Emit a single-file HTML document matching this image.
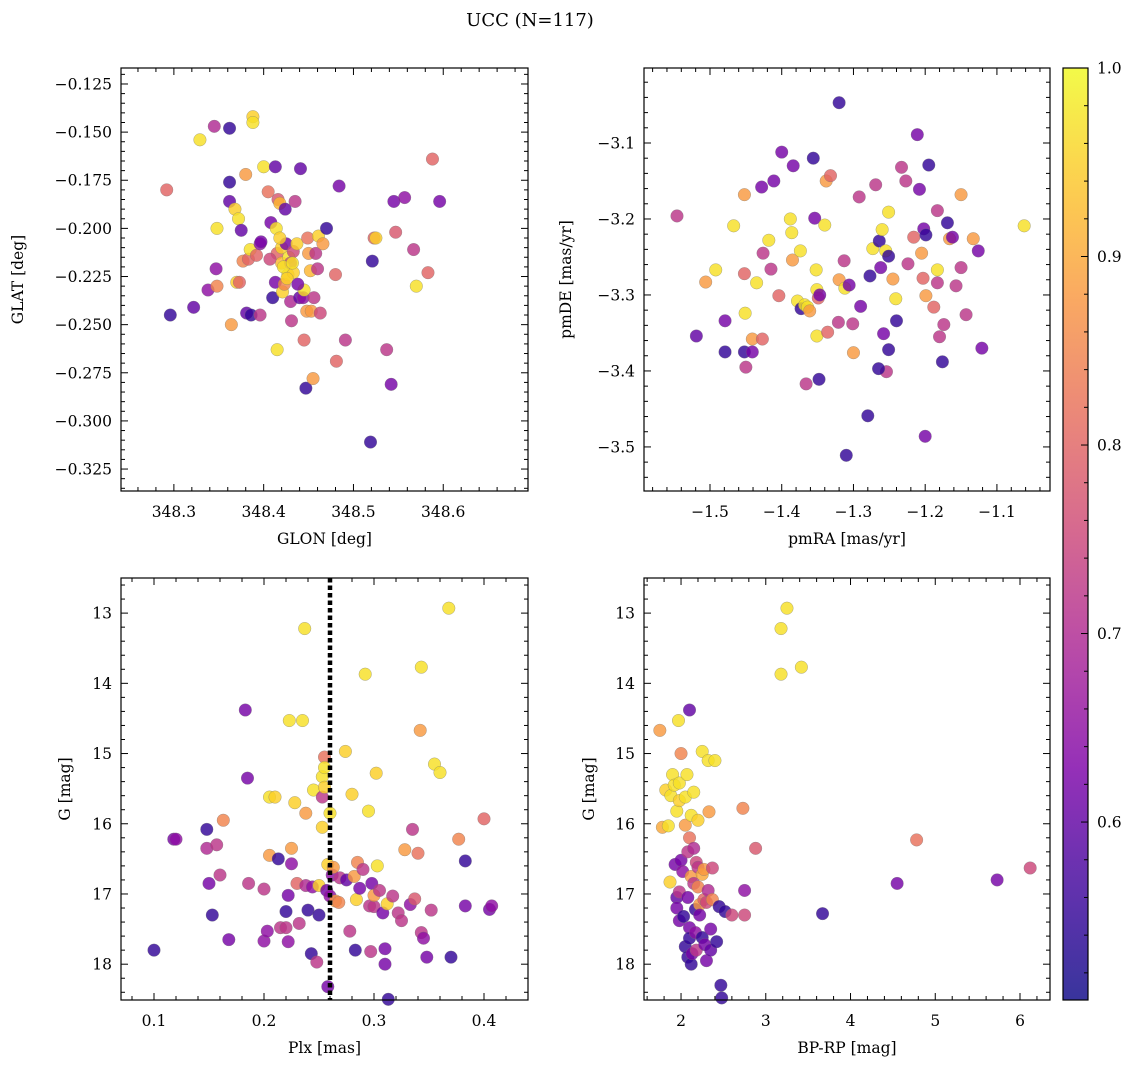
<!DOCTYPE html>
<html><head><meta charset="utf-8">
<style>
body{margin:0;background:#fff;}
svg{display:block;font-family:"DejaVu Serif","Liberation Serif",serif;}
</style></head>
<body>
<svg id="fig" width="1136" height="1068" viewBox="0 0 1136 1068" xmlns="http://www.w3.org/2000/svg">
<text x="530" y="26" font-size="18" text-anchor="middle">UCC (N=117)</text>
</svg>
<script>
// ---------- data ----------
const p1Glon=[348.292,348.296,348.322,348.329,348.338,348.345,348.362,348.347,348.348,348.348,348.362,348.362,348.368,348.372,348.370,348.373,348.364,348.375,348.377,348.381,348.380,348.383,348.386,348.388,348.388,348.385,348.392,348.396,348.396,348.397,348.400,348.405,348.408,348.410,348.413,348.414,348.415,348.413,348.416,348.418,348.420,348.420,348.421,348.415,348.423,348.424,348.425,348.427,348.428,348.430,348.430,348.431,348.433,348.435,348.437,348.433,348.440,348.441,348.444,348.445,348.445,348.448,348.447,348.449,348.450,348.452,348.453,348.455,348.456,348.458,348.460,348.461,348.463,348.466,348.470,348.480,348.481,348.484,348.491,348.519,348.521,348.523,348.525,348.537,348.542,348.545,348.547,348.557,348.567,348.570,348.583,348.588,348.596,348.422,348.426,348.432,348.418,348.407,348.438];
const p1Glat=[-0.180,-0.245,-0.241,-0.154,-0.232,-0.147,-0.148,-0.221,-0.230,-0.200,-0.176,-0.186,-0.190,-0.195,-0.228,-0.228,-0.250,-0.201,-0.217,-0.244,-0.172,-0.216,-0.245,-0.142,-0.145,-0.211,-0.214,-0.245,-0.208,-0.207,-0.168,-0.181,-0.197,-0.236,-0.228,-0.200,-0.213,-0.168,-0.185,-0.187,-0.210,-0.218,-0.233,-0.263,-0.229,-0.190,-0.208,-0.224,-0.215,-0.238,-0.218,-0.248,-0.212,-0.186,-0.208,-0.223,-0.236,-0.169,-0.236,-0.232,-0.258,-0.243,-0.283,-0.205,-0.213,-0.222,-0.243,-0.278,-0.236,-0.213,-0.221,-0.204,-0.244,-0.208,-0.200,-0.224,-0.269,-0.178,-0.258,-0.311,-0.217,-0.205,-0.205,-0.263,-0.281,-0.186,-0.202,-0.184,-0.211,-0.230,-0.223,-0.164,-0.186,-0.220,-0.226,-0.218,-0.205,-0.216,-0.229];
const p1Prob=[.80,.55,.60,.97,.65,.70,.55,.65,.85,.97,.55,.60,.95,.97,.95,.80,.88,.60,.85,.60,.88,.80,.55,.95,.97,.97,.80,.72,.65,.62,.97,.82,.62,.55,.62,.97,.80,.60,.78,.92,.95,.92,.95,.97,.85,.60,.62,.97,.97,.70,.75,.72,.75,.72,.95,.95,.60,.60,.65,.97,.80,.88,.55,.82,.88,.92,.88,.88,.72,.72,.72,.95,.75,.88,.55,.80,.80,.62,.72,.55,.55,.80,.95,.72,.62,.62,.78,.65,.72,.97,.80,.80,.62,.97,.95,.97,.95,.75,.62];

const p2Pmra=[-1.546,-1.519,-1.506,-1.492,-1.479,-1.479,-1.467,-1.452,-1.452,-1.450,-1.452,-1.451,-1.441,-1.441,-1.435,-1.428,-1.427,-1.426,-1.418,-1.415,-1.411,-1.400,-1.404,-1.388,-1.386,-1.385,-1.384,-1.378,-1.374,-1.373,-1.368,-1.366,-1.364,-1.361,-1.356,-1.354,-1.352,-1.351,-1.349,-1.351,-1.348,-1.347,-1.338,-1.340,-1.336,-1.332,-1.321,-1.320,-1.312,-1.313,-1.306,-1.301,-1.300,-1.292,-1.320,-1.290,-1.310,-1.277,-1.273,-1.269,-1.264,-1.262,-1.260,-1.258,-1.255,-1.254,-1.251,-1.251,-1.251,-1.280,-1.245,-1.241,-1.240,-1.233,-1.227,-1.224,-1.216,-1.265,-1.211,-1.208,-1.205,-1.203,-1.202,-1.199,-1.199,-1.195,-1.188,-1.183,-1.183,-1.183,-1.180,-1.176,-1.174,-1.200,-1.169,-1.166,-1.162,-1.157,-1.150,-1.150,-1.143,-1.133,-1.126,-1.121,-1.062];
const p2Pmde=[-3.196,-3.354,-3.283,-3.267,-3.334,-3.375,-3.209,-3.168,-3.375,-3.395,-3.272,-3.324,-3.358,-3.375,-3.284,-3.158,-3.358,-3.245,-3.228,-3.266,-3.150,-3.112,-3.301,-3.200,-3.218,-3.254,-3.130,-3.308,-3.242,-3.318,-3.313,-3.417,-3.316,-3.321,-3.120,-3.199,-3.267,-3.293,-3.304,-3.354,-3.411,-3.300,-3.150,-3.208,-3.349,-3.143,-3.336,-3.280,-3.291,-3.255,-3.287,-3.338,-3.376,-3.171,-3.047,-3.315,-3.511,-3.275,-3.239,-3.155,-3.229,-3.264,-3.214,-3.351,-3.242,-3.401,-3.191,-3.249,-3.372,-3.459,-3.279,-3.305,-3.334,-3.132,-3.150,-3.259,-3.224,-3.397,-3.089,-3.161,-3.245,-3.278,-3.213,-3.301,-3.221,-3.129,-3.316,-3.189,-3.267,-3.284,-3.355,-3.388,-3.339,-3.486,-3.205,-3.226,-3.224,-3.288,-3.264,-3.168,-3.326,-3.226,-3.242,-3.370,-3.209];
const p2Prob=[.72,.60,.88,.97,.62,.55,.97,.88,.55,.72,.80,.97,.88,.62,.97,.62,.80,.72,.97,.72,.62,.62,.80,.97,.97,.88,.62,.97,.97,.55,.97,.72,.97,.88,.55,.62,.97,.97,.80,.97,.55,.62,.88,.97,.80,.80,.72,.88,.97,.72,.62,.72,.88,.72,.55,.62,.55,.55,.97,.72,.55,.62,.97,.62,.97,.72,.97,.55,.55,.55,.88,.97,.55,.72,.72,.72,.80,.55,.62,.62,.88,.80,.62,.88,.55,.55,.80,.72,.97,.72,.72,.55,.72,.62,.55,.88,.62,.72,.72,.88,.72,.88,.62,.62,.97,.62];

const p3Plx=[0.100,0.118,0.120,0.148,0.148,0.150,0.153,0.157,0.160,0.163,0.168,0.183,0.185,0.186,0.200,0.200,0.203,0.205,0.205,0.210,0.213,0.215,0.220,0.220,0.223,0.222,0.222,0.225,0.225,0.228,0.230,0.232,0.235,0.237,0.238,0.238,0.240,0.243,0.244,0.245,0.248,0.250,0.250,0.253,0.253,0.253,0.255,0.255,0.255,0.257,0.258,0.258,0.260,0.260,0.262,0.263,0.265,0.268,0.269,0.274,0.275,0.278,0.280,0.282,0.283,0.284,0.285,0.287,0.290,0.292,0.295,0.296,0.297,0.298,0.300,0.300,0.302,0.303,0.305,0.308,0.310,0.310,0.312,0.313,0.317,0.322,0.325,0.328,0.333,0.335,0.337,0.340,0.343,0.343,0.342,0.345,0.348,0.352,0.355,0.360,0.368,0.370,0.377,0.383,0.383,0.400,0.405,0.407];
const p3G=[17.80,16.22,16.22,16.08,16.35,16.85,17.30,16.30,16.73,15.95,17.65,14.38,15.35,16.85,16.93,17.67,17.53,15.62,16.45,15.62,16.50,17.48,17.48,17.25,14.53,17.68,17.02,16.35,16.57,15.70,16.85,17.42,14.53,13.22,15.85,16.88,17.23,17.85,16.90,15.52,17.97,16.88,17.30,15.33,15.62,16.05,15.48,15.05,15.20,16.95,16.58,18.32,15.85,17.03,16.73,16.62,17.10,17.12,16.77,14.97,16.80,17.53,15.58,16.75,17.80,17.08,16.55,16.92,16.65,13.87,15.82,17.17,17.82,16.85,17.18,17.02,15.28,16.60,16.95,17.27,18.00,17.78,17.14,18.50,17.03,17.27,17.38,16.37,17.15,16.08,17.07,16.42,13.77,17.55,14.67,17.63,17.90,17.23,15.15,15.27,12.93,17.90,16.22,16.53,17.17,15.93,17.22,17.17];
const p3Prob=[.55,.62,.65,.55,.70,.62,.55,.72,.72,.85,.62,.62,.62,.72,.72,.65,.65,.97,.88,.95,.55,.72,.72,.55,.97,.65,.62,.88,.65,.95,.80,.72,.97,.97,.88,.70,.55,.55,.65,.97,.72,.95,.55,.97,.72,.95,.95,.82,.97,.62,.95,.62,.97,.65,.65,.88,.88,.85,.72,.95,.60,.72,.95,.88,.55,.95,.85,.62,.72,.97,.97,.72,.72,.62,.72,.88,.95,.97,.72,.62,.62,.62,.95,.55,.72,.72,.72,.88,.65,.72,.78,.82,.97,.72,.88,.65,.62,.72,.97,.97,.97,.55,.85,.55,.62,.80,.62,.65];
const p3PlxCut=[0.26];

const p4Bprp=[1.75,1.78,1.82,1.85,1.88,1.87,1.90,1.92,1.93,1.95,1.95,1.95,1.97,1.98,1.98,1.98,1.98,2.00,2.00,2.02,2.03,2.05,2.05,2.05,2.07,2.08,2.08,2.08,2.10,2.10,2.10,2.10,2.12,2.12,2.12,2.13,2.15,2.15,2.15,2.17,2.17,2.18,2.18,2.20,2.20,2.20,2.22,2.22,2.25,2.25,2.25,2.27,2.27,2.28,2.30,2.30,2.32,2.32,2.33,2.35,2.35,2.37,2.37,2.40,2.42,2.45,2.47,2.48,2.52,2.60,2.73,2.75,2.75,2.88,3.18,3.18,3.25,3.42,3.67,4.55,4.78,5.73,6.12];
const p4G=[14.67,16.05,15.52,16.03,15.60,16.83,15.30,15.45,16.58,15.82,17.05,17.20,14.53,15.42,15.67,16.97,17.38,15.00,16.52,16.68,17.32,15.62,16.02,17.75,15.30,16.40,17.05,17.90,14.38,16.20,17.48,17.63,15.88,16.75,18.00,17.85,15.55,16.35,16.85,17.22,17.55,16.55,17.80,15.95,16.62,16.90,17.15,17.30,14.97,16.72,17.62,16.65,17.08,17.72,17.12,17.95,15.10,16.95,15.83,17.50,17.80,16.63,17.08,15.10,17.68,17.18,18.30,18.48,17.25,17.30,15.78,17.30,16.95,16.35,13.87,13.22,12.93,13.77,17.28,16.85,16.23,16.80,16.63];
const p4Prob=[.88,.90,.95,.97,.97,.95,.97,.97,.62,.97,.60,.62,.97,.97,.95,.72,.62,.85,.62,.65,.55,.97,.88,.55,.97,.72,.62,.55,.60,.82,.62,.55,.97,.88,.55,.62,.97,.70,.72,.55,.65,.75,.72,.95,.72,.85,.88,.62,.97,.90,.55,.88,.80,.62,.75,.62,.97,.70,.88,.62,.60,.75,.85,.97,.55,.55,.55,.55,.55,.75,.85,.75,.65,.78,.97,.97,.97,.97,.55,.62,.82,.62,.75];

const cbTicks=[0.6,0.7,0.8,0.9,1.0];
const P_MIN=0.5056, P_MAX=1.0;

// ---------- helpers ----------
const NS="http://www.w3.org/2000/svg";
const svg=document.getElementById('fig');
function mk(tag,attrs,parent){const e=document.createElementNS(NS,tag);for(const k in attrs)e.setAttribute(k,attrs[k]);(parent||svg).appendChild(e);return e;}
const stops=[[0,[13,8,135]],[0.125,[65,4,157]],[0.25,[126,3,168]],[0.375,[170,35,149]],[0.5,[204,71,120]],[0.625,[230,108,92]],[0.75,[248,149,64]],[0.875,[253,196,39]],[1,[240,249,33]]];
function plasma(t){t=Math.max(0,Math.min(1,t));for(let i=1;i<stops.length;i++){if(t<=stops[i][0]){const a=stops[i-1],b=stops[i];const f=(t-a[0])/(b[0]-a[0]);const c=a[1].map((v,j)=>Math.round(v+(b[1][j]-v)*f));return `rgb(${c[0]},${c[1]},${c[2]})`;}}return 'rgb(240,249,33)';}
function pcol(p){return plasma((p-P_MIN)/(P_MAX-P_MIN));}
function fmt(v,d){let s=v.toFixed(d);return s.replace('-','\u2212');}

function panel(o){
  const g=mk('g',{});
  
  
  const X=v=>o.L+(v-o.x0)/(o.x1-o.x0)*(o.R-o.L);
  const Y=o.invY? v=>o.T+(v-o.y0)/(o.y1-o.y0)*(o.B-o.T) : v=>o.B-(v-o.y0)/(o.y1-o.y0)*(o.B-o.T);
  const pg=mk('g',{},g);
  
  
  for(let i=0;i<o.xs.length;i++){
    const c=mk('circle',{cx:X(o.xs[i]),cy:Y(o.ys[i]),r:6.3,fill:pcol(o.ps[i]),'fill-opacity':0.82,stroke:'#777','stroke-width':0.5,'stroke-opacity':0.6},pg);
    
    
  }
  if(o.extra)o.extra(g,X,Y);
  const fr=mk('rect',{x:o.L,y:o.T,width:o.R-o.L,height:o.B-o.T,fill:'none',stroke:'#000','stroke-width':1.2},g);
  
  
  const eps=1e-9;
  const xs0=Math.ceil((o.x0-eps)/o.xm)*o.xm;
  for(let v=xs0;v<=o.x1+eps;v+=o.xm){
    const px=X(v);const major=Math.abs(v/o.xM-Math.round(v/o.xM))<1e-6;const len=major?7:4;
    mk('line',{x1:px,y1:o.B,x2:px,y2:o.B-len,stroke:'#000','stroke-width':1},g);
    mk('line',{x1:px,y1:o.T,x2:px,y2:o.T+len,stroke:'#000','stroke-width':1},g);
    if(major){const t=mk('text',{x:px,y:o.B+26,'font-size':15.5,'text-anchor':'middle'},g);t.textContent=fmt(v,o.xd);
      
      }
  }
  const ys0=Math.ceil((Math.min(o.y0,o.y1)-eps)/o.ym)*o.ym;
  for(let v=ys0;v<=Math.max(o.y0,o.y1)+eps;v+=o.ym){
    const py=Y(v);const major=Math.abs(v/o.yM-Math.round(v/o.yM))<1e-6;const len=major?7:4;
    mk('line',{x1:o.L,y1:py,x2:o.L+len,y2:py,stroke:'#000','stroke-width':1},g);
    mk('line',{x1:o.R,y1:py,x2:o.R-len,y2:py,stroke:'#000','stroke-width':1},g);
    if(major){const t=mk('text',{x:o.L-9,y:py+5.5,'font-size':15.5,'text-anchor':'end'},g);t.textContent=fmt(v,o.yd);
      
      }
  }
  const xl=mk('text',{x:(o.L+o.R)/2,y:o.B+53,'font-size':15.5,'text-anchor':'middle'},g);xl.textContent=o.xlab;
  
  
  const yl=mk('text',{x:o.ylx,y:(o.T+o.B)/2,'font-size':15.5,'text-anchor':'middle',transform:`rotate(-90 ${o.ylx} ${(o.T+o.B)/2})`},g);yl.textContent=o.ylab;
  
  
}

panel({name:'glon-glat-panel',L:121,R:528,T:68,B:491,x0:348.2411,x1:348.6944,y0:-0.3364,y1:-0.1167,xM:0.1,xm:0.02,yM:0.025,ym:0.005,xd:1,yd:3,xs:p1Glon,ys:p1Glat,ps:p1Prob,xlab:'GLON [deg]',ylab:'GLAT [deg]',ylx:23});
panel({name:'proper-motion-panel',L:644,R:1050,T:68,B:491,x0:-1.592,x1:-1.026,y0:-3.558,y1:-3.0013,xM:0.1,xm:0.02,yM:0.1,ym:0.02,xd:1,yd:1,xs:p2Pmra,ys:p2Pmde,ps:p2Prob,xlab:'pmRA [mas/yr]',ylab:'pmDE [mas/yr]',ylx:571});
panel({name:'parallax-mag-panel',L:121,R:528,T:578,B:1000,x0:0.07,x1:0.44,y0:12.5,y1:18.51,invY:true,xM:0.1,xm:0.02,yM:1,ym:0.2,xd:1,yd:0,xs:p3Plx,ys:p3G,ps:p3Prob,xlab:'Plx [mas]',ylab:'G [mag]',ylx:70,
  extra:(g,X,Y)=>{const l=mk('line',{x1:X(p3PlxCut[0]),y1:578,x2:X(p3PlxCut[0]),y2:1000,stroke:'#000','stroke-width':4.5,'stroke-dasharray':'4.5,3'},g);
    
    }});
panel({name:'cmd-panel',L:644,R:1050,T:578,B:1000,x0:1.563,x1:6.354,y0:12.5,y1:18.51,invY:true,xM:1,xm:0.2,yM:1,ym:0.2,xd:0,yd:0,xs:p4Bprp,ys:p4G,ps:p4Prob,xlab:'BP-RP [mag]',ylab:'G [mag]',ylx:594});

// ---------- colorbar ----------
(function(){
  const L=1063,R=1088,T=68,B=1000;
  const g=mk('g',{});
  
  
  const defs=mk('defs',{},g);
  const lg=mk('linearGradient',{id:'cbg',x1:0,y1:1,x2:0,y2:0},defs);
  for(let i=0;i<=20;i++){mk('stop',{offset:i/20,'stop-color':plasma(i/20)},lg);}
  mk('rect',{x:L,y:T,width:R-L,height:B-T,fill:'url(#cbg)','fill-opacity':0.82},g);
  mk('rect',{x:L,y:T,width:R-L,height:B-T,fill:'none',stroke:'#000','stroke-width':1.2},g);
  const Y=v=>B-(v-P_MIN)/(P_MAX-P_MIN)*(B-T);
  for(let v=0.52;v<=1.0001;v+=0.02){
    const py=Y(v);const major=Math.abs(v*10-Math.round(v*10))<1e-6;
    mk('line',{x1:R,y1:py,x2:R-(major?7:4),y2:py,stroke:'#000','stroke-width':1},g);
  }
  cbTicks.forEach(v=>{const t=mk('text',{x:R+9,y:Y(v)+5.5,'font-size':15.5},g);t.textContent=v.toFixed(1);
    
    });
})();
</script>
</body></html>
